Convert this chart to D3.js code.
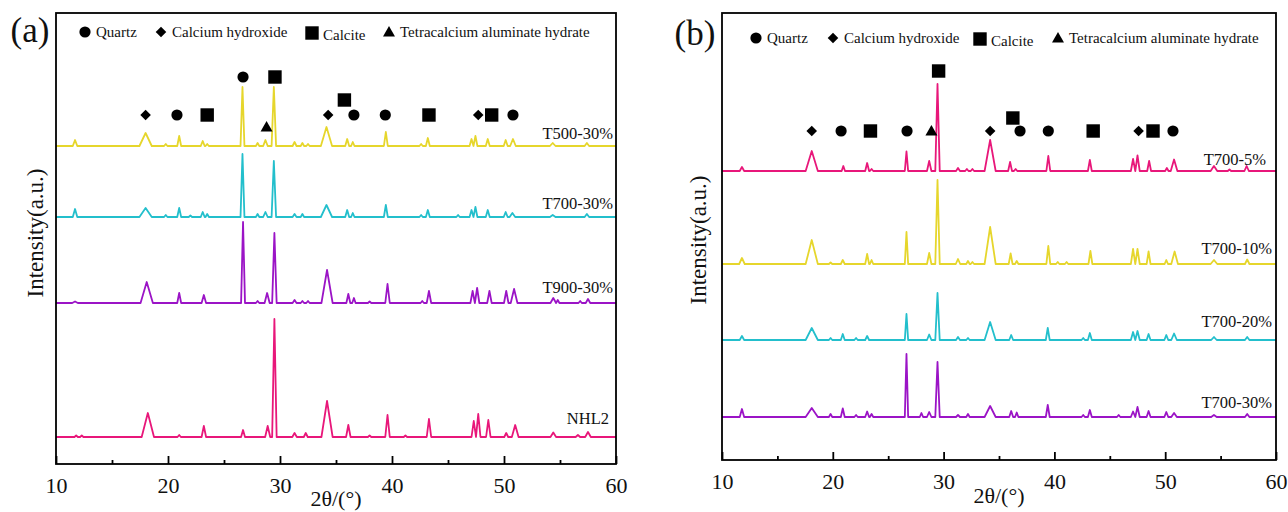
<!DOCTYPE html>
<html>
<head>
<meta charset="utf-8">
<script src="https://cdn.jsdelivr.net/npm/d3@7"></script>
<style>
  body { margin: 0; background: #fff; }
  svg { display: block; }
  svg text { font-family: "Liberation Serif", "DejaVu Serif", "Times New Roman", serif !important; fill: #111; }
</style>
</head>
<body>
<svg id="chart" width="1288" height="512"></svg>
<script>
// XRD patterns, two panels. Peaks are [2theta, height (a.u.), base width (deg)]
const SERIF = '"Liberation Serif", "DejaVu Serif", "Times New Roman", serif';

const xTicks = [10, 20, 30, 40, 50, 60];
const xMinorTicks = [15, 25, 35, 45, 55];

const legendItems = [
    ['circle', 'Quartz'],
    ['diamond', 'Calcium hydroxide'],
    ['square', 'Calcite'],
    ['triangle', 'Tetracalcium aluminate hydrate']
];

// ---- panel (a) ----
const namesA = ['T500-30%', 'T700-30%', 'T900-30%', 'NHL2'];
const offsetsA = [318, 247, 161, 27];

const peaksT500 = [
    [11.7, 6, 0.4], [18.0, 13, 1.1], [19.8, 2, 0.3], [21.0, 10, 0.35], [23.1, 5, 0.35], [23.5, 2, 0.3],
    [26.65, 59, 0.35], [28.0, 3, 0.3], [28.7, 6, 0.4], [29.45, 59, 0.4], [31.3, 4, 0.35], [32.0, 3, 0.3],
    [32.5, 2, 0.3], [34.15, 19, 1.0], [36.0, 7, 0.35], [36.5, 4, 0.3], [39.45, 14, 0.35], [42.6, 2, 0.3],
    [43.2, 8, 0.35], [47.1, 7, 0.35], [47.45, 10, 0.35], [48.55, 7, 0.35], [50.15, 6, 0.35], [50.8, 7, 0.5],
    [54.35, 3, 0.5], [57.4, 3, 0.4]
];
const peaksT700a = [
    [11.7, 8, 0.4], [18.0, 9, 1.1], [19.8, 2, 0.3], [21.0, 9, 0.35], [22.0, 1.5, 0.3], [23.1, 5, 0.35],
    [23.5, 3, 0.3], [26.65, 63, 0.35], [28.0, 3, 0.3], [28.7, 5, 0.4], [29.45, 56, 0.4], [31.3, 3, 0.35],
    [32.0, 3, 0.3], [34.15, 12, 1.0], [36.0, 7, 0.35], [36.5, 4, 0.3], [39.45, 12, 0.35], [42.6, 2, 0.3],
    [43.2, 7, 0.35], [45.9, 2, 0.3], [47.1, 7, 0.35], [47.45, 10, 0.35], [48.55, 7, 0.35], [50.15, 5, 0.35],
    [50.75, 4, 0.5], [54.35, 2, 0.5], [57.4, 3, 0.4]
];
const peaksT900 = [
    [11.7, 1.5, 0.5], [18.1, 21, 1.1], [21.0, 10, 0.35], [23.2, 8, 0.4], [26.7, 81, 0.35], [28.0, 2, 0.3],
    [28.85, 10, 0.45], [29.5, 70, 0.4], [31.3, 3, 0.35], [32.0, 2, 0.3], [32.5, 2, 0.3], [34.2, 33, 1.0],
    [36.1, 9, 0.35], [36.6, 5, 0.3], [38.0, 1.5, 0.3], [39.6, 19, 0.4], [42.7, 2, 0.3], [43.3, 12, 0.4],
    [47.2, 12, 0.4], [47.6, 15, 0.4], [48.7, 12, 0.4], [50.2, 12, 0.4], [50.9, 14, 0.6], [54.4, 5, 0.5],
    [54.8, 3, 0.3], [56.8, 2, 0.3], [57.5, 4, 0.4]
];
const peaksNHL2 = [
    [11.8, 1.5, 0.3], [12.3, 1.5, 0.3], [18.2, 24, 1.1], [21.0, 2, 0.3], [23.2, 11, 0.4], [26.7, 7, 0.35],
    [28.9, 11, 0.45], [29.5, 118, 0.4], [31.3, 4, 0.4], [32.3, 4, 0.35], [34.2, 36, 1.0], [36.1, 12, 0.4],
    [38.0, 1.5, 0.3], [39.6, 22, 0.4], [41.2, 1.5, 0.3], [43.3, 18, 0.4], [47.3, 16, 0.4], [47.7, 23, 0.4],
    [48.6, 17, 0.4], [50.2, 4, 0.35], [51.0, 12, 0.6], [54.4, 4.5, 0.5], [56.6, 2, 0.4], [57.5, 5, 0.5]
];

// phase markers: [symbol, 2theta, level (a.u.)]
const markersA = [
    ['diamond', 18.0, 349], ['circle', 20.8, 349], ['square', 23.5, 349], ['circle', 26.7, 387],
    ['triangle', 28.8, 337], ['square', 29.55, 387], ['diamond', 34.3, 349], ['square', 35.75, 364],
    ['circle', 36.6, 349], ['circle', 39.4, 349], ['square', 43.3, 349], ['diamond', 47.7, 349],
    ['square', 48.9, 349], ['circle', 50.8, 349]
];

// ---- panel (b) ----
const namesB = ['T700-5%', 'T700-10%', 'T700-20%', 'T700-30%'];
const offsetsB = [289, 196, 120, 43];

const peaksT700_5 = [
    [11.8, 4, 0.4], [18.1, 20, 1.1], [20.95, 5, 0.3], [23.1, 8, 0.35], [23.5, 2, 0.3], [26.65, 19.5, 0.3],
    [28.7, 10, 0.4], [29.45, 87, 0.4], [31.3, 3, 0.35], [32.1, 2, 0.3], [32.6, 2, 0.3], [34.2, 31, 1.0],
    [36.0, 9, 0.35], [36.5, 2, 0.3], [39.45, 15, 0.35], [43.2, 11, 0.35], [47.1, 12, 0.4], [47.5, 15.5, 0.4],
    [48.55, 10, 0.35], [50.15, 3, 0.3], [50.8, 11.5, 0.6], [54.4, 5, 0.6], [55.8, 1.5, 0.3], [57.35, 5, 0.4]
];
const peaksT700_10 = [
    [11.8, 6, 0.5], [18.1, 24, 1.1], [19.8, 1.5, 0.3], [20.9, 4, 0.35], [23.1, 10, 0.35], [23.5, 4, 0.3],
    [26.65, 32, 0.3], [28.7, 11, 0.4], [29.45, 84, 0.4], [31.3, 5, 0.4], [32.2, 3, 0.3], [32.6, 2, 0.3],
    [34.2, 37, 1.0], [36.05, 10.5, 0.35], [36.6, 3, 0.3], [39.45, 18, 0.35], [40.3, 2, 0.3], [41.1, 2, 0.3],
    [43.25, 13, 0.35], [47.1, 15, 0.4], [47.5, 15, 0.4], [48.5, 12.5, 0.35], [50.1, 4, 0.3], [50.85, 12.5, 0.6],
    [54.4, 4, 0.6], [57.4, 4.5, 0.4]
];
const peaksT700_20 = [
    [11.8, 4, 0.4], [18.1, 12, 1.1], [19.8, 2, 0.3], [20.9, 6, 0.35], [22.1, 2, 0.3], [23.1, 4, 0.35],
    [26.65, 26, 0.3], [28.7, 5.5, 0.4], [29.45, 47, 0.4], [31.3, 3, 0.35], [32.2, 2, 0.3], [34.2, 18, 1.0],
    [36.1, 5, 0.35], [39.4, 12, 0.35], [42.6, 2, 0.3], [43.2, 7, 0.35], [47.1, 8, 0.4], [47.5, 9, 0.4],
    [48.5, 6, 0.35], [50.1, 5, 0.35], [50.8, 6.5, 0.5], [54.4, 3, 0.5], [57.4, 3, 0.4]
];
const peaksT700_30 = [
    [11.8, 8, 0.4], [18.1, 9, 1.1], [19.8, 3, 0.3], [20.9, 8.5, 0.35], [22.1, 2, 0.3], [23.1, 5.5, 0.35],
    [23.5, 3, 0.3], [26.65, 63, 0.3], [28.0, 4, 0.3], [28.7, 5, 0.4], [29.45, 55, 0.4], [31.3, 2, 0.35],
    [32.2, 3, 0.3], [34.2, 11, 1.0], [36.1, 6, 0.35], [36.6, 4.5, 0.3], [39.4, 12, 0.35], [42.6, 2, 0.3],
    [43.2, 7, 0.35], [45.8, 2, 0.3], [47.1, 5.5, 0.4], [47.5, 10, 0.4], [48.5, 6, 0.35], [50.1, 5, 0.35],
    [50.8, 4, 0.5], [54.4, 2, 0.5], [57.4, 3, 0.4]
];

const markersB = [
    ['diamond', 18.1, 329], ['circle', 20.75, 329], ['square', 23.4, 329], ['circle', 26.7, 329],
    ['triangle', 28.9, 329], ['square', 29.55, 389], ['diamond', 34.2, 329], ['square', 36.25, 342],
    ['circle', 36.9, 329], ['circle', 39.45, 329], ['square', 43.5, 329], ['diamond', 47.6, 329],
    ['square', 48.9, 329], ['circle', 50.7, 329]
];

const lineColors = ['#e6d62c', '#23bfcc', '#9b14c6', '#e8177a'];
const lineColorsB = ['#e8177a', '#e6d62c', '#23bfcc', '#9b14c6'];

const svg = d3.select('#chart');

// marker shapes
function drawSymbol(g, type, cx, cy) {
    if (type === 'circle') {
        g.append('circle').attr('cx', cx).attr('cy', cy).attr('r', 5.6).attr('fill', '#000');
    } else if (type === 'diamond') {
        g.append('path').attr('d', d3.symbol(d3.symbolSquare, 56)())
            .attr('transform', `translate(${cx},${cy}) rotate(45)`).attr('fill', '#000');
    } else if (type === 'square') {
        g.append('path').attr('d', d3.symbol(d3.symbolSquare, 180)())
            .attr('transform', `translate(${cx},${cy})`).attr('fill', '#000');
    } else {
        g.append('path').attr('d', d3.symbol(d3.symbolTriangle, 62)())
            .attr('transform', `translate(${cx},${cy + 1})`).attr('fill', '#000');
    }
}

function peakPoints(peaks) {
    const pts = [[10, 0]];
    peaks.forEach(([p, h, w]) => {
        pts.push([p - w / 2, 0], [p, h], [p + w / 2, 0]);
    });
    pts.push([60, 0]);
    return pts;
}

function addText(g, size) {
    return g.append('text').attr('font-family', SERIF).style('font-family', SERIF).attr('font-size', size);
}

function drawPanel(cfg) {
    const x = d3.scaleLinear().domain([10, 60]).range([cfg.left, cfg.right]);
    const y = d3.scaleLinear().domain([0, cfg.yMax]).range([cfg.bottom, cfg.top]);
    const g = svg.append('g');

    // traces
    cfg.series.forEach((peaks, i) => {
        const line = d3.line()
            .x(d => x(d[0]))
            .y(d => y(d[1] + cfg.offsets[i]));
        g.append('path')
            .datum(peakPoints(peaks))
            .attr('d', line)
            .attr('fill', 'none')
            .attr('stroke', cfg.colors[i])
            .attr('stroke-width', 1.8)
            .attr('stroke-linejoin', 'round');

        addText(g, '16.5px')
            .attr('x', cfg.labelX[i])
            .attr('y', y(cfg.offsets[i]) - cfg.labelLift[i])
            .attr('text-anchor', 'end')
            .text(cfg.names[i]);
    });

    // phase markers
    cfg.markers.forEach(([type, p, lvl]) => drawSymbol(g, type, x(p), y(lvl)));

    // axes (ticks pointing inward)
    g.append('g')
        .attr('transform', `translate(0,${cfg.bottom})`)
        .call(d3.axisBottom(x).tickValues(xTicks).tickSize(-8).tickPadding(13).tickFormat(d3.format('d')))
        .attr('font-family', SERIF)
        .call(a => a.select('.domain').remove())
        .call(a => a.selectAll('line').attr('stroke', '#000').attr('stroke-width', 1.8))
        .call(a => a.selectAll('text').attr('font-size', '22px').attr('fill', '#111')
            .style('font-family', SERIF));
    g.append('g')
        .attr('transform', `translate(0,${cfg.bottom})`)
        .call(d3.axisBottom(x).tickValues(xMinorTicks).tickSize(-4).tickFormat(''))
        .call(a => a.select('.domain').remove())
        .call(a => a.selectAll('line').attr('stroke', '#000').attr('stroke-width', 1.8));

    g.append('rect')
        .attr('x', cfg.left).attr('y', cfg.top)
        .attr('width', cfg.right - cfg.left).attr('height', cfg.bottom - cfg.top)
        .attr('fill', 'none').attr('stroke', '#000').attr('stroke-width', 1.8);

    // axis titles
    addText(g, '22px')
        .attr('x', (cfg.left + cfg.right) / 2)
        .attr('y', cfg.xTitleY)
        .attr('text-anchor', 'middle')
        .text('2θ/(°)');
    addText(g, '23px')
        .attr('transform', `translate(${cfg.yTitleX},${cfg.yTitleY}) rotate(-90)`)
        .attr('text-anchor', 'middle')
        .attr('dominant-baseline', 'central')
        .text('Intensity(a.u.)');

    // panel tag
    addText(g, '35px')
        .attr('x', cfg.tagX).attr('y', cfg.tagY)
        .attr('text-anchor', 'middle')
        .text(cfg.tag);

    // legend
    const lg = g.append('g');
    legendItems.forEach(([type, label], i) => {
        const lx = cfg.legendX[i];
        drawSymbol(lg, type, lx, cfg.legendY + (type === 'square' ? 1 : 0));
        addText(lg, '15px')
            .attr('x', lx + 11)
            .attr('y', cfg.legendY + 5 + (type === 'square' ? 3 : 0))
            .text(label);
    });
}

drawPanel({
    left: 56, right: 616, top: 13, bottom: 464, yMax: 451,
    series: [peaksT500, peaksT700a, peaksT900, peaksNHL2],
    offsets: offsetsA, names: namesA, colors: lineColors,
    labelX: [613, 613, 613, 609], labelLift: [7, 8, 10, 13],
    markers: markersA,
    xTitleY: 506, yTitleX: 35, yTitleY: 233,
    tag: '(a)', tagX: 30, tagY: 42,
    legendX: [85, 161, 312, 389], legendY: 32
});

drawPanel({
    left: 722, right: 1276, top: 13, bottom: 460, yMax: 447,
    series: [peaksT700_5, peaksT700_10, peaksT700_20, peaksT700_30],
    offsets: offsetsB, names: namesB, colors: lineColorsB,
    labelX: [1266, 1272, 1272, 1272], labelLift: [6, 10, 13, 9],
    markers: markersB,
    xTitleY: 503, yTitleX: 698, yTitleY: 240,
    tag: '(b)', tagX: 695, tagY: 45,
    legendX: [756, 833, 980, 1058], legendY: 38
});
</script>
</body>
</html>
